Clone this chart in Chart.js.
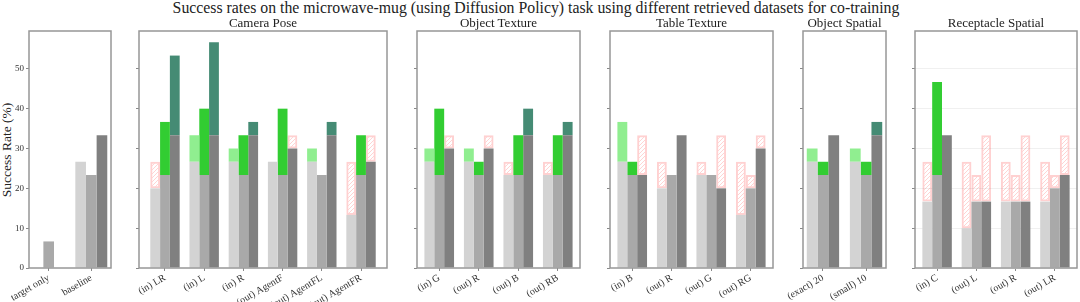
<!DOCTYPE html>
<html>
<head>
<meta charset="utf-8">
<script src="https://cdn.jsdelivr.net/npm/chart.js@4.4.1/dist/chart.umd.min.js"></script>
<style>
  html, body { margin: 0; padding: 0; background: #fff; }
  #wrap { position: relative; width: 1080px; height: 302px; overflow: hidden;
          font-family: 'Liberation Serif', serif; color: #222; }
  .panel { position: absolute; }
  .ttl { position: absolute; white-space: nowrap; text-align: center; }
</style>
</head>
<body>
<div id="wrap">
  <div class="ttl" style="left:136px;width:800px;top:0;font-size:15.8px;line-height:15px;">
    Success rates on the microwave-mug (using Diffusion Policy) task using different retrieved datasets for co-training
  </div>
  <div class="ttl" style="left:-93px;width:200px;top:143px;font-size:13.5px;line-height:14px;transform:rotate(-90deg);">
    Success Rate (%)
  </div>
</div>
<script>
// shades: light / mid / dark bar of each group
const shadeNames = ['light', 'mid', 'dark'];
const baseColors = ['#d3d3d3', '#a9a9a9', '#808080'];
const gainColors = ['#90ee90', '#32cd32', '#458b74'];

// baseline (co-training on prior data only) used as reference for the other panels
const baselineRef = [26.67, 23.33, 33.33];

const refCats = ['target only', 'baseline'];
const refLight = [0, 26.67];
const refMid = [6.67, 23.33];
const refDark = [0, 33.33];

const cameraCats = ['(in) LR', '(in) L', '(in) R', '(out) AgentF', '(out) AgentFL', '(out) AgentFR'];
const cameraLight = [20, 33.33, 30, 26.67, 30, 13.33];
const cameraMid = [36.67, 40, 33.33, 40, 23.33, 33.33];
const cameraDark = [53.33, 56.67, 36.67, 30, 36.67, 26.67];

const objTexCats = ['(in) G', '(out) R', '(out) B', '(out) RB'];
const objTexLight = [30, 30, 23.33, 23.33];
const objTexMid = [40, 26.67, 33.33, 33.33];
const objTexDark = [30, 30, 40, 36.67];

const tableCats = ['(in) B', '(out) R', '(out) G', '(out) RG'];
const tableLight = [36.67, 20, 23.33, 13.33];
const tableMid = [26.67, 23.33, 23.33, 20];
const tableDark = [23.33, 33.33, 20, 30];

const objSpCats = ['(exact) 20', '(small) 10'];
const objSpLight = [30, 30];
const objSpMid = [26.67, 26.67];
const objSpDark = [33.33, 36.67];

const recCats = ['(in) C', '(out) L', '(out) R', '(out) LR'];
const recLight = [16.67, 10, 16.67, 16.67];
const recMid = [46.67, 16.67, 16.67, 20];
const recDark = [33.33, 16.67, 16.67, 23.33];

const yTicks = [0, 10, 20, 30, 40, 50];
const yMax = 59.5;

const panels = [
  { title: '', cats: refCats, series: [refLight, refMid, refDark], compare: false, left: 29, right: 111 },
  { title: 'Camera Pose', cats: cameraCats, series: [cameraLight, cameraMid, cameraDark], compare: true, left: 139, right: 387 },
  { title: 'Object Texture', cats: objTexCats, series: [objTexLight, objTexMid, objTexDark], compare: true, left: 417, right: 580 },
  { title: 'Table Texture', cats: tableCats, series: [tableLight, tableMid, tableDark], compare: true, left: 610, right: 773 },
  { title: 'Object Spatial', cats: objSpCats, series: [objSpLight, objSpMid, objSpDark], compare: true, left: 803, right: 886 },
  { title: 'Receptacle Spatial', cats: recCats, series: [recLight, recMid, recDark], compare: true, left: 915, right: 1077, grid: true },
];

const plotTop = 31, plotBottom = 268;
const PADL = 30, PADT = 10, PADR = 8, PADB = 40;

function makeHatch() {
  const c = document.createElement('canvas');
  c.width = 4; c.height = 4;
  const g = c.getContext('2d');
  g.strokeStyle = 'rgba(255,0,0,0.17)';
  g.lineWidth = 1;
  g.beginPath();
  g.moveTo(0, 4); g.lineTo(4, 0);
  g.moveTo(-1, 1); g.lineTo(1, -1);
  g.moveTo(3, 5); g.lineTo(5, 3);
  g.stroke();
  return g.createPattern(c, 'repeat');
}
const hatch = makeHatch();

const framePlugin = {
  id: 'frame',
  afterDatasetsDraw(chart) {
    const { ctx, chartArea: a } = chart;
    ctx.save();
    ctx.strokeStyle = '#979797';
    ctx.lineWidth = 1.5;
    ctx.strokeRect(a.left, a.top, a.right - a.left, a.bottom - a.top);
    ctx.restore();
  }
};

function buildDatasets(series, compare) {
  const ds = [];
  series.forEach((vals, s) => {
    const ref = baselineRef[s];
    const stack = shadeNames[s];
    ds.push({
      stack,
      data: vals.map((v, i) => ({ x: i, y: compare ? Math.min(v, ref) : v })),
      backgroundColor: baseColors[s],
      borderWidth: 0
    });
    if (compare) {
      ds.push({
        stack,
        data: vals.map((v, i) => ({ x: i, y: v > ref + 0.01 ? v - ref : null })),
        backgroundColor: gainColors[s],
        borderWidth: 0
      });
      ds.push({
        stack,
        data: vals.map((v, i) => ({ x: i, y: v < ref - 0.01 ? ref - v : null })),
        backgroundColor: hatch,
        borderColor: 'rgba(255,0,0,0.18)',
        borderWidth: 2,
        borderSkipped: false
      });
    }
  });
  return ds;
}

const wrap = document.getElementById('wrap');

panels.forEach((p, idx) => {
  const n = p.cats.length;
  const margin = 0.05 * (n - 0.25);
  const xMin = -0.375 - margin;
  const xMax = n - 1 + 0.375 + margin;

  const w = (p.right - p.left) + PADL + PADR;
  const h = (plotBottom - plotTop) + PADT + PADB;
  const div = document.createElement('div');
  div.className = 'panel';
  div.style.left = (p.left - PADL) + 'px';
  div.style.top = (plotTop - PADT) + 'px';
  div.style.width = w + 'px';
  div.style.height = h + 'px';
  const canvas = document.createElement('canvas');
  canvas.width = w; canvas.height = h;
  canvas.style.width = w + 'px'; canvas.style.height = h + 'px';
  div.appendChild(canvas);
  wrap.appendChild(div);

  if (p.title) {
    const t = document.createElement('div');
    t.className = 'ttl';
    t.textContent = p.title;
    t.style.fontSize = '13px';
    t.style.lineHeight = '13px';
    t.style.top = '16px';
    t.style.width = '200px';
    t.style.left = ((p.left + p.right) / 2 - 100) + 'px';
    wrap.appendChild(t);
  }

  new Chart(canvas, {
    type: 'bar',
    data: { datasets: buildDatasets(p.series, p.compare) },
    plugins: [framePlugin],
    options: {
      responsive: false,
      animation: false,
      devicePixelRatio: 1,
      layout: { padding: { top: PADT, right: PADR, left: 0, bottom: 0 } },
      datasets: { bar: { categoryPercentage: 0.75, barPercentage: 1 } },
      plugins: { legend: { display: false }, tooltip: { enabled: false } },
      scales: {
        x: {
          type: 'linear',
          min: xMin,
          max: xMax,
          offset: false,
          grid: { offset: false, drawOnChartArea: false, tickLength: 3, color: '#888', tickColor: '#888' },
          border: { display: false },
          ticks: {
            autoSkip: false, minRotation: 30, maxRotation: 30, padding: 1,
            color: '#333', font: { family: "'Liberation Serif', serif", size: 10 },
            callback: (v) => p.cats[Math.round(v)] ?? ''
          },
          afterBuildTicks: (s) => { s.ticks = p.cats.map((_, i) => ({ value: i })); },
          afterFit: (s) => { s.height = PADB; }
        },
        y: {
          min: 0,
          max: yMax,
          stacked: true,
          grid: { drawOnChartArea: !!p.grid, color: '#f0f0f0', tickLength: 3, tickColor: '#888' },
          border: { display: false },
          ticks: {
            display: idx === 0, padding: 2,
            color: '#333', font: { family: "'Liberation Serif', serif", size: 9 }
          },
          afterBuildTicks: (s) => { s.ticks = yTicks.map(v => ({ value: v })); },
          afterFit: (s) => { s.width = PADL; }
        }
      }
    }
  });
});
</script>
</body>
</html>
